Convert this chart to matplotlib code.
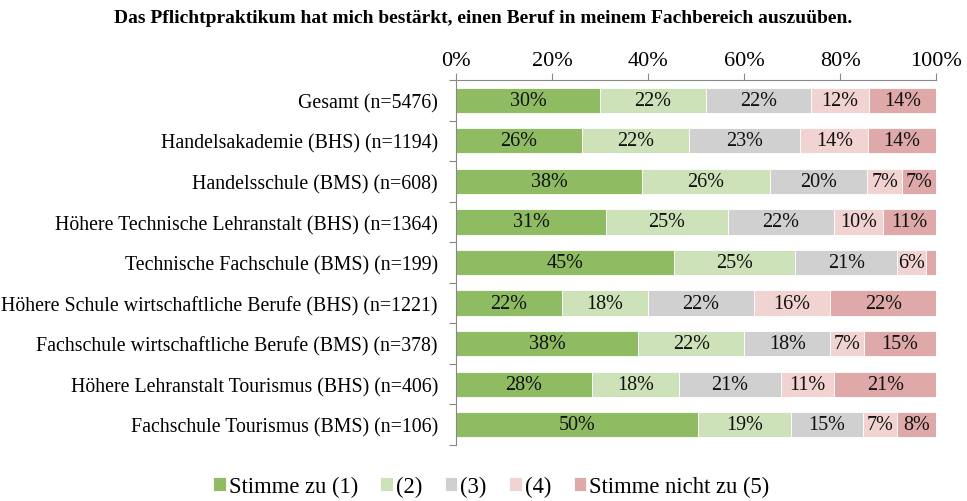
import matplotlib.pyplot as plt
import numpy as np

plt.rcParams['font.family'] = ['Liberation Serif', 'DejaVu Serif']

title = 'Das Pflichtpraktikum hat mich bestärkt, einen Beruf in meinem Fachbereich auszuüben.'

categories = [
    'Gesamt (n=5476)',
    'Handelsakademie (BHS) (n=1194)',
    'Handelsschule (BMS) (n=608)',
    'Höhere Technische Lehranstalt (BHS) (n=1364)',
    'Technische Fachschule (BMS) (n=199)',
    'Höhere Schule wirtschaftliche Berufe (BHS) (n=1221)',
    'Fachschule wirtschaftliche Berufe (BMS) (n=378)',
    'Höhere Lehranstalt Tourismus (BHS) (n=406)',
    'Fachschule Tourismus (BMS) (n=106)',
]

stimme_zu = [30, 26, 38, 31, 45, 22, 38, 28, 50]
val2 = [22, 22, 26, 25, 25, 18, 22, 18, 19]
val3 = [22, 23, 20, 22, 21, 22, 18, 21, 15]
val4 = [12, 14, 7, 10, 6, 16, 7, 11, 7]
stimme_nicht_zu = [14, 14, 7, 11, 2, 22, 15, 21, 8]

series_names = ['Stimme zu (1)', '(2)', '(3)', '(4)', 'Stimme nicht zu (5)']
colors = ['#8fbb63', '#cde2b9', '#d0d0d0', '#f1d3d2', '#e0a9a9']

data = np.array([stimme_zu, val2, val3, val4, stimme_nicht_zu], dtype=float)
shares = data / data.sum(axis=0) * 100

fig = plt.figure(figsize=(9.67, 5.02), dpi=100)
ax = fig.add_axes([0.4716, 0.1116, 0.4964, 0.727])

y = np.arange(len(categories))
left = np.zeros(len(categories))
for i in range(5):
    bars = ax.barh(y, shares[i], left=left, height=0.62, color=colors[i],
                   edgecolor='white', linewidth=0.6, label=series_names[i])
    for j, b in enumerate(bars):
        if data[i, j] >= 5:
            ax.text(left[j] + shares[i, j] / 2, y[j], '%d%%' % data[i, j],
                    ha='center', va='center', fontsize=14.5, color='#111111')
    left += shares[i]

ax.set_xlim(0, 100)
ax.set_ylim(len(categories) - 0.5, -0.5)
ax.xaxis.tick_top()
ax.set_xticks([0, 20, 40, 60, 80, 100])
ax.set_xticklabels(['0%', '20%', '40%', '60%', '80%', '100%'], fontsize=16)
ax.tick_params(axis='x', direction='out', length=5, width=0.8, color='#888888', pad=2)

ax.set_yticks(y)
ax.set_yticklabels(categories, fontsize=14.3)
ax.set_yticks(np.arange(len(categories) + 1) - 0.5, minor=True)
ax.tick_params(axis='y', which='major', length=0, pad=13)
ax.tick_params(axis='y', which='minor', direction='out', length=5, width=0.8, color='#888888')

for s in ['right', 'bottom']:
    ax.spines[s].set_visible(False)
for s in ['top', 'left']:
    ax.spines[s].set_color('#888888')
    ax.spines[s].set_linewidth(0.8)

fig.text(0.5, 0.964, title, ha='center', va='center', fontsize=14, fontweight='bold')

fig.legend(loc='lower center', bbox_to_anchor=(0.508, -0.032), ncol=5, frameon=False,
           fontsize=16.3, handlelength=0.55, handleheight=0.55, handletextpad=0.13,
           columnspacing=1.0)

fig.savefig('out.png', dpi=100)
